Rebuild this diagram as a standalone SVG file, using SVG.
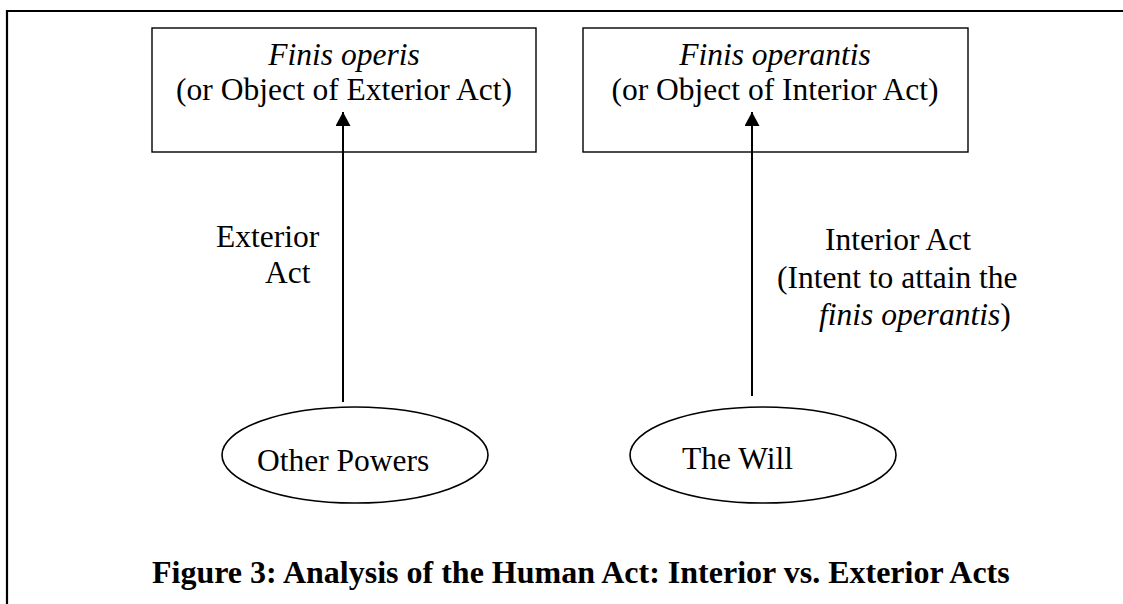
<svg xmlns="http://www.w3.org/2000/svg" width="1123" height="604" viewBox="0 0 1123 604">
<style>
text{font-family:"Liberation Serif","Times New Roman",serif;font-size:31.5px;fill:#000}
.i{font-style:italic}
.b{font-weight:bold;font-size:32px}
.box{fill:#fff;stroke:#000;stroke-width:1.4}
.ell{fill:#fff;stroke:#000;stroke-width:1.6}
.conn{stroke:#000;stroke-width:2;fill:none}
</style>
<defs>
<marker id="ah" viewBox="0 0 14 15" refX="14" refY="7.5" markerWidth="14" markerHeight="15" markerUnits="userSpaceOnUse" orient="auto">
<path d="M0,0 L14,7.5 L0,15 Z" fill="#000"/>
</marker>
</defs>
<rect width="1123" height="604" fill="#fff"/>
<g id="frame">
<path d="M7,604 L7,11 L1123,11" fill="none" stroke="#000" stroke-width="2.2"/>
</g>
<g id="node-finis-operis">
<rect class="box" x="152" y="28" width="384" height="124"/>
<text x="344" y="65" text-anchor="middle" class="i">Finis operis</text>
<text x="344" y="100" text-anchor="middle">(or Object of Exterior Act)</text>
</g>
<g id="node-finis-operantis">
<rect class="box" x="583" y="28" width="385" height="124"/>
<text x="775" y="65" text-anchor="middle" class="i">Finis operantis</text>
<text x="775" y="100" text-anchor="middle">(or Object of Interior Act)</text>
</g>
<g id="node-other-powers">
<ellipse class="ell" cx="355" cy="455" rx="133" ry="48"/>
<text x="257" y="471">Other Powers</text>
</g>
<g id="node-the-will">
<ellipse class="ell" cx="763" cy="455" rx="133" ry="48"/>
<text x="682" y="469">The Will</text>
</g>
<g id="connectors">
<line class="conn" x1="343" y1="402" x2="343" y2="112" marker-end="url(#ah)"/>
<line class="conn" x1="752" y1="396" x2="752" y2="112" marker-end="url(#ah)"/>
</g>
<g id="labels">
<text x="216" y="247">Exterior</text>
<text x="265" y="283">Act</text>
<text x="825" y="250">Interior Act</text>
<text x="777" y="288">(Intent to attain the</text>
<text x="819" y="325"><tspan class="i">finis operantis</tspan>)</text>
</g>
<g id="caption">
<text x="152" y="583" class="b">Figure 3: Analysis of the Human Act: Interior vs. Exterior Acts</text>
</g>
</svg>
